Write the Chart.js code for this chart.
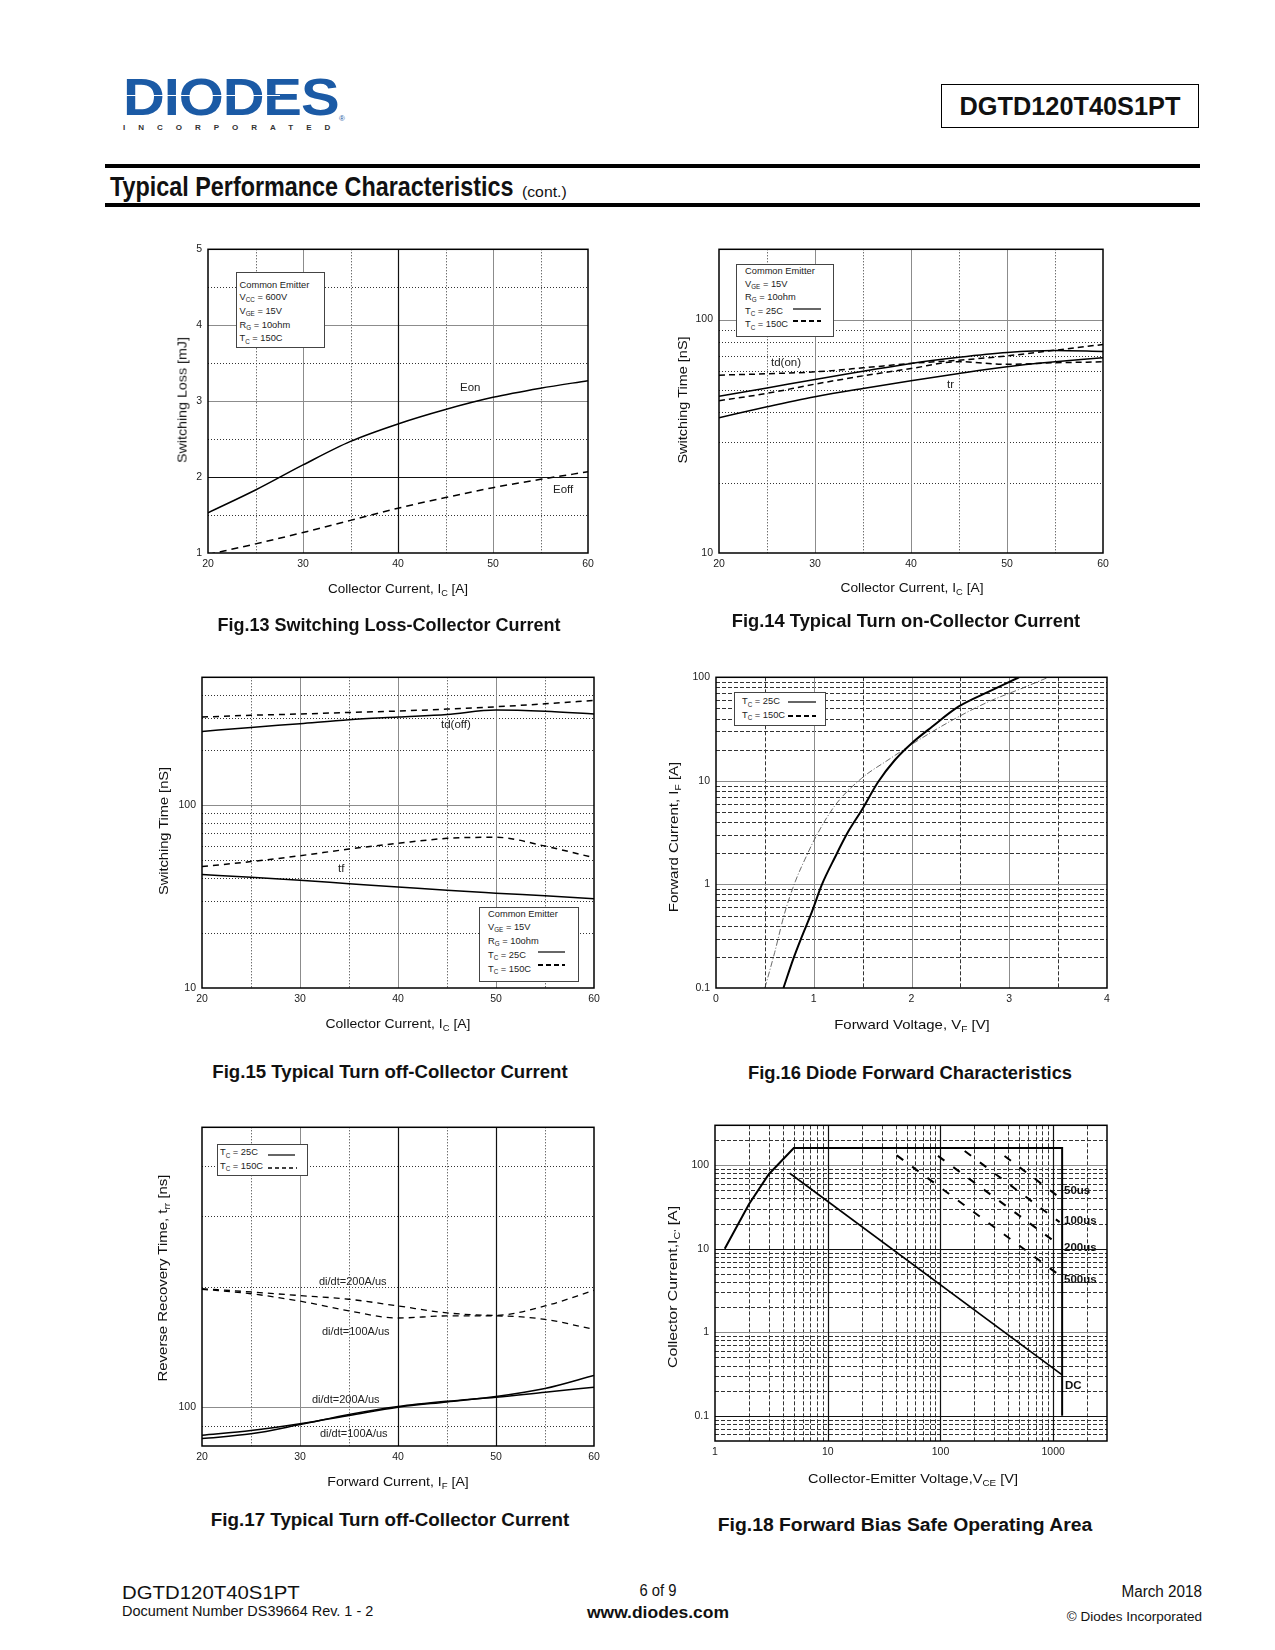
<!DOCTYPE html>
<html>
<head>
<meta charset="utf-8">
<title>DGTD120T40S1PT - Typical Performance Characteristics</title>
<script src="https://cdn.jsdelivr.net/npm/chart.js@4.4.1/dist/chart.umd.min.js"></script>
<style>
  html, body { margin: 0; padding: 0; background: #fff; }
  body { position: relative; width: 1275px; height: 1650px; overflow: hidden;
         font-family: 'Liberation Sans', Arial, sans-serif; color: #111; }
  canvas { position: absolute; }
  .t { position: absolute; white-space: nowrap; line-height: 1; }
  .cc { transform: translate(-50%, -50%); transform-origin: center center; }
  .lc { transform: translate(0, -50%); transform-origin: left center; }
  .rc { transform: translate(-100%, -50%); transform-origin: right center; }
  .rot { transform: translate(-50%, -50%) rotate(-90deg); transform-origin: center center; }
  .s { font-size: 0.68em; position: relative; top: 0.35em; }
  .ax { font-size: 13px; color: #111; }
  .fig { font-size: 18px; font-weight: bold; color: #111; }
  .cl { font-size: 11.5px; color: #222; }
  .lg { position: absolute; box-sizing: border-box; border: 1px solid #444; background: #fff;
        font-size: 9.3px; white-space: nowrap; color: #222; }
  .lg svg { position: absolute; }
  .rule { position: absolute; background: #000; }
</style>
</head>
<body>

<!-- header -->
<div class="t" data-w="215" data-o="lt" style="left:123px;top:71px;font-size:52px;font-weight:bold;color:#1b5aa5;letter-spacing:-1px">DIODES</div>
<div class="rule" style="left:123px;top:94.5px;width:157px;height:1.8px;background:#fff"></div>
<div class="t lc" style="left:123px;top:128px;font-size:8px;font-weight:bold;letter-spacing:13px;color:#333">INCORPORATED</div>
<div class="t cc" style="left:342px;top:119px;font-size:8px;color:#1b5aa5">®</div>
<div style="position:absolute;left:941px;top:84px;width:258px;height:44px;border:1px solid #000;box-sizing:border-box"></div>
<div class="t cc" data-w="221" style="left:1070px;top:106px;font-size:26px;font-weight:bold">DGTD120T40S1PT</div>

<div class="rule" style="left:105px;top:164px;width:1095px;height:4px"></div>
<div class="t lc" data-w="403" style="left:110px;top:187px;font-size:28px;font-weight:bold">Typical Performance Characteristics</div>
<div class="t lc" data-w="45" style="left:522px;top:192px;font-size:14px">(cont.)</div>
<div class="rule" style="left:105px;top:203px;width:1095px;height:4px"></div>

<canvas id="fig13"></canvas>
<canvas id="fig14"></canvas>
<canvas id="fig15"></canvas>
<canvas id="fig16"></canvas>
<canvas id="fig17"></canvas>
<canvas id="fig18"></canvas>

<!-- Fig.13 text -->
<div class="lg" style="left:236px;top:272px;width:89px;height:76px;padding:5.5px 0 0 2.5px;line-height:12.7px">Common Emitter<br>V<span class="s">CC</span> = 600V<br>V<span class="s">GE</span> = 15V<br>R<span class="s">G</span> = 10ohm<br>T<span class="s">C</span> = 150C</div>
<div class="t rot ax" data-w="126" style="left:182px;top:400px">Switching Loss [mJ]</div>
<div class="t cc ax" data-w="140" style="left:398px;top:588px">Collector Current, I<span class="s">C</span> [A]</div>
<div class="t lc cl" style="left:460px;top:388px">Eon</div>
<div class="t lc cl" style="left:553px;top:490px">Eoff</div>
<div class="t cc fig" data-w="343" style="left:389px;top:625px">Fig.13 Switching Loss-Collector Current</div>

<!-- Fig.14 text -->
<div class="lg" style="left:736px;top:264px;width:98px;height:73px;padding:0 0 0 8px;line-height:12.6px">Common Emitter<br>V<span class="s">GE</span> = 15V<br>R<span class="s">G</span> = 10ohm<br>T<span class="s">C</span> = 25C<br>T<span class="s">C</span> = 150C
<svg style="left:56px;top:41.5px" width="28" height="4"><line x1="0" y1="2" x2="28" y2="2" stroke="#000" stroke-width="1.2"/></svg>
<svg style="left:56px;top:54px" width="28" height="4"><line x1="0" y1="2" x2="28" y2="2" stroke="#000" stroke-width="2" stroke-dasharray="5,3"/></svg></div>
<div class="t rot ax" data-w="127" style="left:682px;top:400px">Switching Time [nS]</div>
<div class="t cc ax" data-w="143" style="left:912px;top:587px">Collector Current, I<span class="s">C</span> [A]</div>
<div class="t lc cl" style="left:771px;top:363px">td(on)</div>
<div class="t lc cl" style="left:947px;top:385px">tr</div>
<div class="t cc fig" data-w="348" style="left:906px;top:621px">Fig.14 Typical Turn on-Collector Current</div>

<!-- Fig.15 text -->
<div class="lg" style="left:479px;top:907px;width:100px;height:75px;padding:0 0 0 8px;line-height:12.9px">Common Emitter<br>V<span class="s">GE</span> = 15V<br>R<span class="s">G</span> = 10ohm<br>T<span class="s">C</span> = 25C<br>T<span class="s">C</span> = 150C
<svg style="left:58px;top:42px" width="27" height="4"><line x1="0" y1="2" x2="27" y2="2" stroke="#000" stroke-width="1.2"/></svg>
<svg style="left:58px;top:55px" width="27" height="4"><line x1="0" y1="2" x2="27" y2="2" stroke="#000" stroke-width="2" stroke-dasharray="5,3"/></svg></div>
<div class="t rot ax" data-w="128" style="left:163px;top:831px">Switching Time [nS]</div>
<div class="t cc ax" data-w="145" style="left:398px;top:1023px">Collector Current, I<span class="s">C</span> [A]</div>
<div class="t lc cl" style="left:441px;top:725px">td(off)</div>
<div class="t lc cl" style="left:338px;top:869px">tf</div>
<div class="t cc fig" data-w="355" style="left:390px;top:1072px">Fig.15 Typical Turn off-Collector Current</div>

<!-- Fig.16 text -->
<div class="lg" style="left:734px;top:692px;width:92px;height:34px;padding:2.3px 0 0 7px;line-height:13.4px;font-size:9.3px">T<span class="s">C</span> = 25C<br>T<span class="s">C</span> = 150C
<svg style="left:53px;top:7px" width="28" height="4"><line x1="0" y1="2" x2="28" y2="2" stroke="#000" stroke-width="1.2"/></svg>
<svg style="left:53px;top:20.5px" width="28" height="4"><line x1="0" y1="2" x2="28" y2="2" stroke="#000" stroke-width="2" stroke-dasharray="5,3"/></svg></div>
<div class="t rot ax" data-w="150" style="left:673px;top:837px">Forward Current,  I<span class="s">F</span> [A]</div>
<div class="t cc ax" data-w="155" style="left:912px;top:1024px">Forward Voltage,  V<span class="s">F</span> [V]</div>
<div class="t cc fig" data-w="324" style="left:910px;top:1073px">Fig.16 Diode Forward Characteristics</div>

<!-- Fig.17 text -->
<div class="lg" style="left:217px;top:1144px;width:91px;height:32px;padding:1.3px 0 0 2px;line-height:13.4px;font-size:9.3px">T<span class="s">C</span> = 25C<br>T<span class="s">C</span> = 150C
<svg style="left:50px;top:8px" width="27" height="4"><line x1="0" y1="2" x2="27" y2="2" stroke="#000" stroke-width="1.2"/></svg>
<svg style="left:50px;top:20.5px" width="29" height="4"><line x1="0" y1="2" x2="29" y2="2" stroke="#000" stroke-width="1.3" stroke-dasharray="4,3"/></svg></div>
<div class="t rot ax" data-w="207" style="left:162px;top:1278px">Reverse Recovery Time, t<span class="s">rr</span> [ns]</div>
<div class="t cc ax" data-w="141" style="left:398px;top:1481px">Forward Current, I<span class="s">F</span> [A]</div>
<div class="t lc cl" style="left:319px;top:1281px;font-size:11px">di/dt=200A/us</div>
<div class="t lc cl" style="left:322px;top:1331px;font-size:11px">di/dt=100A/us</div>
<div class="t lc cl" style="left:312px;top:1399px;font-size:11px">di/dt=200A/us</div>
<div class="t lc cl" style="left:320px;top:1433px;font-size:11px">di/dt=100A/us</div>
<div class="t cc fig" data-w="358" style="left:390px;top:1520px">Fig.17 Typical Turn off-Collector Current</div>

<!-- Fig.18 text -->
<div class="t rot ax" data-w="162" style="left:672px;top:1287px">Collector Current,I<span class="s">C'</span> [A]</div>
<div class="t cc ax" data-w="210" style="left:913px;top:1478px">Collector-Emitter Voltage,V<span class="s">CE</span> [V]</div>
<div class="t lc" style="left:1064px;top:1191px;font-size:11.5px;font-weight:bold">50us</div>
<div class="t lc" style="left:1064px;top:1221px;font-size:11.5px;font-weight:bold">100us</div>
<div class="t lc" style="left:1064px;top:1248px;font-size:11.5px;font-weight:bold">200us</div>
<div class="t lc" style="left:1064px;top:1280px;font-size:11.5px;font-weight:bold">500us</div>
<div class="t lc" style="left:1065px;top:1386px;font-size:11.5px;font-weight:bold">DC</div>
<div class="t cc fig" data-w="374" style="left:905px;top:1525px">Fig.18 Forward Bias Safe Operating Area</div>

<!-- footer -->
<div class="t lc" data-w="178" style="left:122px;top:1592px;font-size:19px">DGTD120T40S1PT</div>
<div class="t lc" data-w="251" style="left:122px;top:1610.5px;font-size:14px">Document Number DS39664 Rev. 1 - 2</div>
<div class="t cc" data-w="37" style="left:658px;top:1590.5px;font-size:16px">6 of 9</div>
<div class="t cc" data-w="142" style="left:658px;top:1612.5px;font-size:16px;font-weight:bold">www.diodes.com</div>
<div class="t rc" data-w="81" style="left:1202px;top:1592px;font-size:16px">March 2018</div>
<div class="t rc" data-w="135" style="left:1202px;top:1616.5px;font-size:12px">© Diodes Incorporated</div>

<script>
// ---- Fig.13 Switching Loss vs Collector Current ----
const fig13Ic = [20, 25, 30, 35, 40, 45, 50, 55, 60];
const fig13Eon = [1.53, 1.83, 2.16, 2.47, 2.70, 2.89, 3.05, 3.17, 3.27];
const fig13Eoff = [0.98, 1.12, 1.27, 1.43, 1.59, 1.73, 1.86, 1.97, 2.07];
const fig13XTicks = [20, 30, 40, 50, 60];
const fig13YTicks = [1, 2, 3, 4, 5];

// ---- Fig.14 Turn on times ----
const fig14Ic = [20, 25, 30, 35, 40, 45, 50, 55, 60];
const fig14TdOn25 = [46.9, 50.9, 55.4, 60.0, 64.9, 69.0, 72.3, 73.7, 73.0];
const fig14Tr25 = [38.0, 42.3, 46.7, 50.7, 54.7, 58.8, 62.8, 65.9, 68.6];
const fig14TdOn150 = [57.8, 58.6, 59.7, 62.1, 64.9, 67.0, 69.9, 73.9, 78.2];
const fig14Tr150 = [44.9, 48.3, 52.9, 57.4, 61.7, 66.0, 64.3, 65.3, 65.9];
const fig14XTicks = [20, 30, 40, 50, 60];
const fig14YTicks = [10, 100];

// ---- Fig.15 Turn off times ----
const fig15Ic = [20, 25, 30, 35, 40, 45, 50, 55, 60];
const fig15TdOff25 = [253, 266, 279, 293, 303, 313, 331, 326, 315];
const fig15TdOff150 = [303, 310, 315, 321, 327, 335, 345, 358, 374];
const fig15Tf25 = [41.7, 40.3, 38.8, 37.2, 35.7, 34.2, 33.0, 31.9, 30.8];
const fig15Tf150 = [46.1, 49.1, 52.9, 57.5, 61.8, 65.8, 66.7, 59.7, 51.6];
const fig15XTicks = [20, 30, 40, 50, 60];
const fig15YTicks = [10, 100];

// ---- Fig.16 Diode forward ----
const fig16Vf25 = [0.69, 0.79, 0.87, 0.98, 1.08, 1.22, 1.35, 1.49, 1.66, 1.83, 2.0, 2.21, 2.48, 2.79, 3.1];
const fig16If25 = [0.1, 0.19, 0.3, 0.54, 0.98, 1.85, 3.2, 5.2, 9.8, 15.9, 23, 33.3, 52, 72.7, 100];
const fig16Vf150 = [0.5, 0.6, 0.7, 0.81, 0.93, 1.03, 1.22, 1.49, 1.76, 2.1, 2.45, 2.79, 3.13, 3.4];
const fig16If150 = [0.1, 0.22, 0.52, 1.06, 1.92, 2.99, 5.83, 10.6, 15.9, 25.7, 40.1, 58.2, 78.3, 100];
const fig16XTicks = [0, 1, 2, 3, 4];
const fig16YTicks = [0.1, 1, 10, 100];

// ---- Fig.17 Reverse recovery ----
const fig17If = [20, 25, 30, 35, 40, 45, 50, 55, 60];
const fig17Trr150At200 = [197.7, 194, 190, 186, 179, 172, 169.6, 179, 195.8];
const fig17Trr150At100 = [197, 192, 184, 174, 167, 169, 169, 165.7, 156.4];
const fig17Trr25At200 = [85.1, 87.4, 90.9, 95.3, 100, 103.1, 106.3, 111.3, 120];
const fig17Trr25At100 = [83.5, 85.8, 90.5, 95.9, 100.4, 103.5, 105.9, 109, 112.2];
const fig17XTicks = [20, 30, 40, 50, 60];
const fig17YTicks = [100];

// ---- Fig.18 FBSOA ----
const fig18SoaV = [1.22, 2, 3, 5, 1200, 1200];
const fig18SoaI = [10, 34, 78, 160, 160, 0.1];
const fig18DcV = [4.6, 1200];
const fig18DcI = [80, 0.31];
const fig18P50V = [370, 1140];
const fig18P50I = [129, 41];
const fig18P100V = [164, 1140];
const fig18P100I = [148, 20.8];
const fig18P200V = [95, 1140];
const fig18P200I = [129, 11];
const fig18P500V = [41, 1140];
const fig18P500I = [131, 4.8];
const fig18XTicks = [1, 10, 100, 1000];
const fig18YTicks = [0.1, 1, 10, 100];

// minor gridline helper (2..9 within a decade)
const decade = d => [2, 3, 4, 5, 6, 7, 8, 9].map(k => +(k * d).toPrecision(3));

// squeeze pdf-like condensed text to the measured width
document.querySelectorAll('[data-w]').forEach(el => {
  const k = Number(el.dataset.w) / el.offsetWidth;
  let base = 'translate(0,-50%)';
  if (el.dataset.o === 'lt') { base = ''; el.style.transformOrigin = 'left top'; }
  else if (el.classList.contains('rot')) base = 'translate(-50%,-50%) rotate(-90deg)';
  else if (el.classList.contains('cc')) base = 'translate(-50%,-50%)';
  else if (el.classList.contains('rc')) base = 'translate(-100%,-50%)';
  el.style.transform = base + ' scaleX(' + k + ')';
});

function gridPlugin(g) {
  return {
    id: 'sheetGrid',
    beforeDatasetsDraw(chart) {
      const {ctx, chartArea: a, scales: {x, y}} = chart;
      ctx.save();
      const stroke = (vals, vertical, color, width, dash) => {
        ctx.strokeStyle = color; ctx.lineWidth = width; ctx.setLineDash(dash);
        (vals || []).forEach(v => {
          ctx.beginPath();
          if (vertical) {
            const p = Math.round(x.getPixelForValue(v)) + 0.5;
            ctx.moveTo(p, a.top); ctx.lineTo(p, a.bottom);
          } else {
            const p = Math.round(y.getPixelForValue(v)) + 0.5;
            ctx.moveTo(a.left, p); ctx.lineTo(a.right, p);
          }
          ctx.stroke();
        });
      };
      stroke(g.xMinor, true, '#333', 1, g.dash);
      stroke(g.yMinor, false, '#333', 1, g.dash);
      stroke(g.xMajor, true, '#8c8c8c', 1, []);
      stroke(g.yMajor, false, '#8c8c8c', 1, []);
      stroke(g.xDark, true, '#111', 1.2, []);
      stroke(g.yDark, false, '#111', 1.2, []);
      ctx.restore();
    },
    afterDatasetsDraw(chart) {
      const {ctx, chartArea: a} = chart;
      ctx.save();
      ctx.strokeStyle = '#000'; ctx.lineWidth = 1.5; ctx.setLineDash([]);
      ctx.strokeRect(a.left, a.top, a.right - a.left, a.bottom - a.top);
      ctx.restore();
    }
  };
}

function series(xs, ys, style) {
  return Object.assign({
    data: xs.map((x, i) => ({x: x, y: ys[i]})),
    borderColor: '#000', borderWidth: 1.5, pointRadius: 0, fill: false,
    cubicInterpolationMode: 'monotone'
  }, style);
}

function sheetChart(id, area, xOpt, yOpt, datasets, grid) {
  const [L, T, R, B] = area;
  const padL = 45, padT = 12, padR = 18, padB = 30;
  const cv = document.getElementById(id);
  const w = R - L + padL + padR, h = B - T + padT + padB;
  cv.width = w; cv.height = h;
  Object.assign(cv.style, {left: (L - padL) + 'px', top: (T - padT) + 'px', width: w + 'px', height: h + 'px'});
  const axis = (opt, isX) => ({
    type: opt.type, min: opt.min, max: opt.max,
    position: isX ? 'bottom' : 'left',
    grid: {display: false, drawTicks: false},
    border: {display: false},
    ticks: {
      font: {family: 'Liberation Sans, Arial, sans-serif', size: 10.5},
      color: '#222', padding: isX ? 5 : 6, autoSkip: false, maxRotation: 0,
      callback: v => String(v)
    },
    afterBuildTicks: s => { s.ticks = opt.ticks.map(v => ({value: v})); },
    afterFit: s => { if (isX) s.height = padB; else s.width = padL; }
  });
  return new Chart(cv, {
    type: 'line',
    data: {datasets: datasets},
    options: {
      responsive: false, animation: false, events: [],
      layout: {padding: {top: padT, right: padR, left: 0, bottom: 0}},
      plugins: {legend: {display: false}, tooltip: {enabled: false}},
      scales: {x: axis(xOpt, true), y: axis(yOpt, false)}
    },
    plugins: [gridPlugin(grid)]
  });
}

const ampGrid = {xMajor: [30, 50], xDark: [40], xMinor: [25, 35, 45, 55], dash: [1, 2]};

sheetChart('fig13', [208, 249, 588, 553],
  {type: 'linear', min: 20, max: 60, ticks: fig13XTicks},
  {type: 'linear', min: 1, max: 5, ticks: fig13YTicks},
  [series(fig13Ic, fig13Eon, {}),
   series(fig13Ic, fig13Eoff, {borderDash: [7, 5]})],
  Object.assign({}, ampGrid, {yMajor: [3, 4], yDark: [2], yMinor: [1.5, 2.5, 3.5, 4.5]}));

sheetChart('fig14', [719, 249, 1103, 553],
  {type: 'linear', min: 20, max: 60, ticks: fig14XTicks},
  {type: 'logarithmic', min: 10, max: 200, ticks: fig14YTicks},
  [series(fig14Ic, fig14TdOn25, {}),
   series(fig14Ic, fig14Tr25, {}),
   series(fig14Ic, fig14TdOn150, {borderDash: [6, 4]}),
   series(fig14Ic, fig14Tr150, {borderDash: [6, 4]})],
  {xMajor: [30, 40, 50], xMinor: [25, 35, 45, 55], yMajor: [100], yMinor: decade(10), dash: [1, 2]});

sheetChart('fig15', [202, 677, 594, 988],
  {type: 'linear', min: 20, max: 60, ticks: fig15XTicks},
  {type: 'logarithmic', min: 10, max: 500, ticks: fig15YTicks},
  [series(fig15Ic, fig15TdOff25, {}),
   series(fig15Ic, fig15TdOff150, {borderDash: [6, 5]}),
   series(fig15Ic, fig15Tf25, {}),
   series(fig15Ic, fig15Tf150, {borderDash: [6, 5]})],
  {xMajor: [30, 40, 50], xMinor: [25, 35, 45, 55], yMajor: [100],
   yMinor: decade(10).concat([200, 300, 400]), dash: [1, 2]});

sheetChart('fig16', [716, 677, 1107, 988],
  {type: 'linear', min: 0, max: 4, ticks: fig16XTicks},
  {type: 'logarithmic', min: 0.1, max: 100, ticks: fig16YTicks},
  [series(fig16Vf25, fig16If25, {borderWidth: 2}),
   series(fig16Vf150, fig16If150, {borderWidth: 0.8, borderColor: '#444', borderDash: [6, 2, 1, 2]})],
  {xMajor: [1, 2, 3], xMinor: [0.5, 1.5, 2.5, 3.5], yMajor: [1, 10],
   yMinor: decade(0.1).concat(decade(1), decade(10)), dash: [4, 2]});

sheetChart('fig17', [202, 1127, 594, 1446],
  {type: 'linear', min: 20, max: 60, ticks: fig17XTicks},
  {type: 'logarithmic', min: 80, max: 500, ticks: fig17YTicks},
  [series(fig17If, fig17Trr150At200, {borderWidth: 1.3, borderDash: [6, 5]}),
   series(fig17If, fig17Trr150At100, {borderWidth: 1.3, borderDash: [6, 5]}),
   series(fig17If, fig17Trr25At200, {}),
   series(fig17If, fig17Trr25At100, {})],
  {xMajor: [30], xDark: [40, 50], xMinor: [25, 35, 45, 55], yMajor: [100],
   yMinor: [90, 200, 300, 400], dash: [1, 2]});

const pulse = {borderWidth: 2, borderDash: [8, 11], tension: 0, cubicInterpolationMode: 'default'};
sheetChart('fig18', [715, 1125, 1107, 1441],
  {type: 'logarithmic', min: 1, max: 3000, ticks: fig18XTicks},
  {type: 'logarithmic', min: 0.05, max: 300, ticks: fig18YTicks},
  [series(fig18SoaV, fig18SoaI, {borderWidth: 2, tension: 0, cubicInterpolationMode: 'default'}),
   series(fig18DcV, fig18DcI, {borderWidth: 1.6, tension: 0, cubicInterpolationMode: 'default'}),
   series(fig18P50V, fig18P50I, pulse),
   series(fig18P100V, fig18P100I, pulse),
   series(fig18P200V, fig18P200I, pulse),
   series(fig18P500V, fig18P500I, pulse)],
  {xMajor: [], xDark: [10, 100, 1000], xMinor: decade(1).concat(decade(10), decade(100), [2000]),
   yMajor: [1, 100], yDark: [0.1, 10],
   yMinor: [0.06, 0.07, 0.08, 0.09].concat(decade(0.1), decade(1), decade(10), [200]), dash: [4, 2]});
</script>
</body>
</html>
